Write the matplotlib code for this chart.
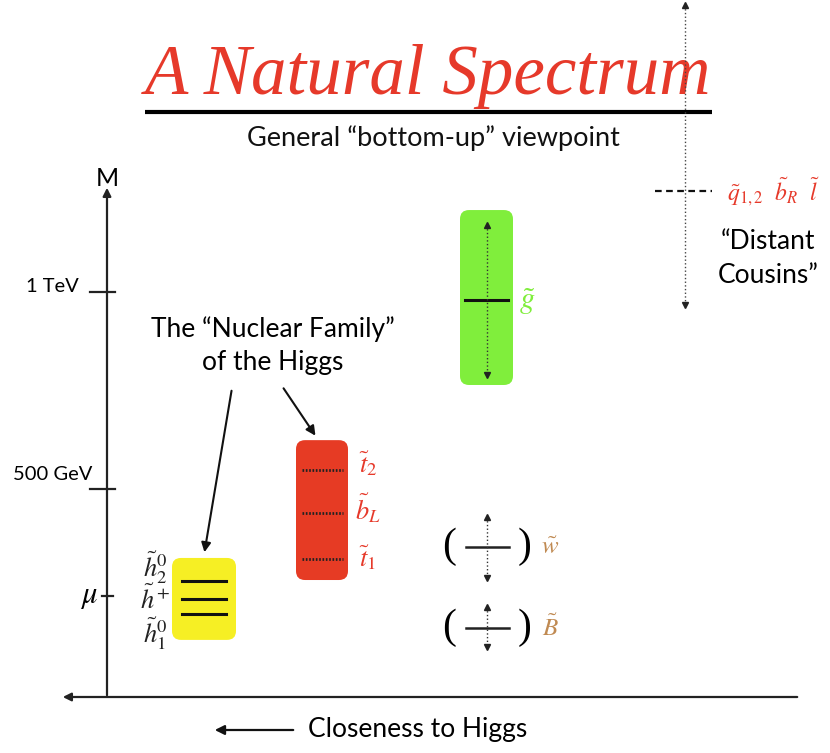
import matplotlib
matplotlib.use('Agg')
import matplotlib.pyplot as plt
from matplotlib.patches import FancyBboxPatch

W, H = 830, 753
Y0 = 686.0            # pixel row of zero mass
PX = 197.0 / 500.0    # pixels per GeV

# ---- data (masses in GeV) ----
tick_labels = ['1 TeV', '500 GeV']
tick_masses = [1000, 500]
mu_mass = 228
higgsino_masses = [266, 222, 183]
higgsino_box = [325, 117]
higgsino_labels = [r'$\tilde{h}_2^0$', r'$\tilde{h}^+$', r'$\tilde{h}_1^0$']
stop_masses = [548, 439, 322]
stop_box = [624, 269]
stop_labels = [r'$\tilde{t}_2$', r'$\tilde{b}_L$', r'$\tilde{t}_1$']
gluino_mass = 980
gluino_box = [1208, 764]
gluino_range = [1170, 790]
wino_mass = 353
wino_range = [428, 274]
bino_mass = 147
bino_range = [200, 99]
cousin_mass = 1256
cousin_range = [1729, 968]
cousin_label = r'$\tilde{q}_{1,2}\ \ \tilde{b}_R\ \ \tilde{l}$'

RED = '#e6392a'
STOP = '#e63b24'
YEL = '#f6ef24'
GRN = '#80ee3c'
TAN = '#c08a52'

plt.rcParams['mathtext.fontset'] = 'stix'
fig = plt.figure(figsize=(W / 100, H / 100), dpi=100)
lay = fig.add_axes([0, 0, 1, 1])
lay.set_xlim(0, W); lay.set_ylim(H, 0); lay.axis('off')
ax = fig.add_axes([0, 0, 1, 1], facecolor='none')
ax.set_xlim(0, W); ax.set_ylim(-(H - Y0) / PX, Y0 / PX); ax.axis('off')
ASP = 1 / PX

# ---- title ----
lay.text(428, 76, 'A Natural Spectrum', color=RED, fontsize=51, ha='center', va='center',
         family='Liberation Serif', style='italic')
lay.plot([145, 712], [112, 112], color='black', lw=3, solid_capstyle='butt')
lay.text(433, 138, 'General \u201cbottom-up\u201d viewpoint', fontsize=19.5, ha='center', va='center',
         family='Lato', color='#111111')

# ---- axes ----
ax.annotate('', xy=(107, (Y0 - 185) / PX), xytext=(107, (Y0 - 698) / PX),
            arrowprops=dict(arrowstyle='-|>', lw=1.6, color='#222222', mutation_scale=12))
ax.annotate('', xy=(60, (Y0 - 697) / PX), xytext=(800, (Y0 - 697) / PX),
            arrowprops=dict(arrowstyle='-|>', lw=1.6, color='#222222', mutation_scale=12))
lay.text(107, 178, 'M', fontsize=18, ha='center', va='center', family='Lato')
for lab, m in zip(tick_labels, tick_masses):
    ax.plot([90, 115], [m, m], color='#222222', lw=1.6)
ax.text(79, 1000 + 6 / PX, '1 TeV', fontsize=14.5, ha='right', va='center', family='Lato')
ax.text(92, 500 + 14 / PX, '500 GeV', fontsize=14.5, ha='right', va='center', family='Lato')
ax.plot([102, 113], [mu_mass, mu_mass], color='#222222', lw=1.6)
ax.text(98, mu_mass, r'$\mu$', fontsize=22, ha='right', va='center')

# ---- higgsinos ----
ax.add_patch(FancyBboxPatch((172, higgsino_box[1]), 64, higgsino_box[0] - higgsino_box[1],
                            boxstyle='round,pad=0,rounding_size=9', mutation_aspect=ASP,
                            fc=YEL, ec='none'))
for m in higgsino_masses:
    ax.plot([182, 226], [m, m], color='#111111', lw=2.2)
for lab, yy in zip(higgsino_labels, [568, 600, 634]):
    lay.text(155, yy, lab, fontsize=19, ha='center', va='center', color='#222222')

# ---- stops ----
ax.add_patch(FancyBboxPatch((296, stop_box[1]), 52, stop_box[0] - stop_box[1],
                            boxstyle='round,pad=0,rounding_size=9', mutation_aspect=ASP,
                            fc=STOP, ec='none'))
for m in stop_masses:
    ax.plot([302, 343], [m, m], color='#222222', lw=2, ls=(0, (0.6, 0.6)))
for lab, yy in zip(stop_labels, [464, 508, 558]):
    lay.text(368, yy, lab, fontsize=19, ha='center', va='center', color=RED)

# ---- gluino ----
ax.add_patch(FancyBboxPatch((460, gluino_box[1]), 53, gluino_box[0] - gluino_box[1],
                            boxstyle='round,pad=0,rounding_size=9', mutation_aspect=ASP,
                            fc=GRN, ec='none'))
ax.plot([465, 508], [gluino_mass, gluino_mass], color='#111111', lw=2.2)
ax.plot([487, 487], gluino_range, color='#333333', lw=1, ls=':')
ax.plot([487], [gluino_range[0]], marker='^', ms=5, color='#222222')
ax.plot([487], [gluino_range[1]], marker='v', ms=5, color='#222222')
lay.text(527, 302, r'$\tilde{g}$', fontsize=22, ha='center', va='center', color=GRN)

# ---- wino / bino ----
for m, rng, lab in [(wino_mass, wino_range, r'$\tilde{w}$'), (bino_mass, bino_range, r'$\tilde{B}$')]:
    ax.plot([466, 509], [m, m], color='#222222', lw=1.8)
    ax.plot([487, 487], rng, color='#333333', lw=1, ls=':')
    ax.plot([487], [rng[0]], marker='^', ms=4.5, color='#222222')
    ax.plot([487], [rng[1]], marker='v', ms=4.5, color='#222222')
    ax.text(449, m, '(', fontsize=30, ha='center', va='center', family='Liberation Serif')
    ax.text(525, m, ')', fontsize=30, ha='center', va='center', family='Liberation Serif')
    ax.text(550, m, lab, fontsize=18, ha='center', va='center', color=TAN)

# ---- distant cousins ----
ax.plot([655, 712], [cousin_mass, cousin_mass], color='#111111', lw=1.6, ls=(0, (3, 2)))
ax.plot([685, 685], cousin_range, color='#444444', lw=1, ls=':')
ax.plot([685], [cousin_range[0]], marker='^', ms=4, color='#222222')
ax.plot([685], [cousin_range[1]], marker='v', ms=4, color='#222222')
ax.text(727, cousin_mass, cousin_label, fontsize=17, ha='left', va='center', color=RED)
lay.text(768, 258, '\u201cDistant\nCousins\u201d', fontsize=19, ha='center', va='center',
         family='Lato', linespacing=1.45)

# ---- nuclear family ----
lay.text(273, 346, 'The \u201cNuclear Family\u201d\nof the Higgs', fontsize=19, ha='center', va='center',
         family='Lato', linespacing=1.4)
lay.annotate('', xy=(204, 555), xytext=(232, 388),
             arrowprops=dict(arrowstyle='-|>', lw=1.5, color='#111111', mutation_scale=14))
lay.annotate('', xy=(317, 438), xytext=(282, 386),
             arrowprops=dict(arrowstyle='-|>', lw=1.5, color='#111111', mutation_scale=14))

# ---- bottom label ----
lay.annotate('', xy=(212, 730), xytext=(296, 730),
             arrowprops=dict(arrowstyle='-|>', lw=1.6, color='#111111', mutation_scale=14))
lay.text(418, 730, 'Closeness to Higgs', fontsize=19, ha='center', va='center', family='Lato')

fig.savefig('out.png', dpi=100)
